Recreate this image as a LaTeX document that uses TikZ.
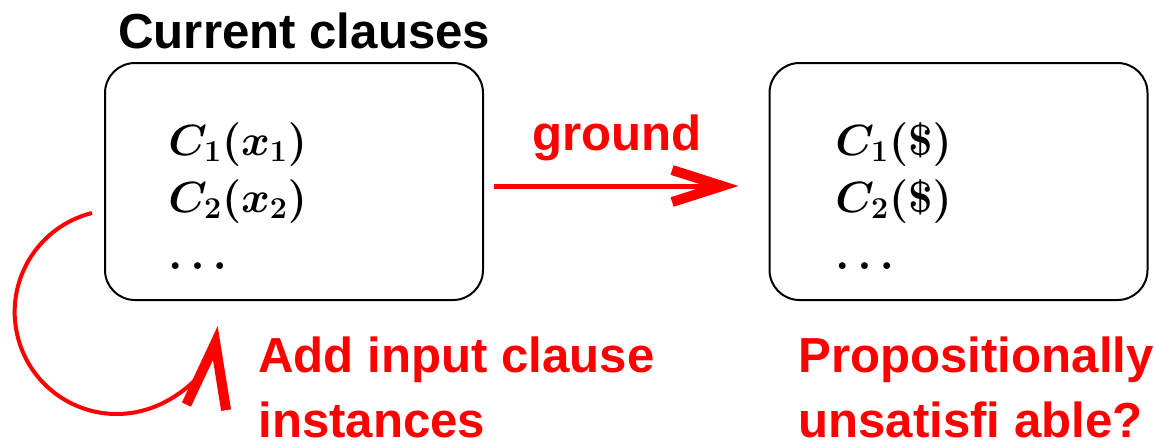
\documentclass[tikz,border=0pt]{standalone}
\usepackage[no-math]{fontspec}
\setmainfont{Liberation Sans}
\usetikzlibrary{arrows.meta}

\newlength{\du}
\setlength{\du}{0.02cm}

\definecolor{dialinecolor}{rgb}{1.000000, 0.000000, 0.000000}

\tikzset{
  clausebox/.style={draw=black, line width=2\du, rounded corners=30\du,
    minimum width=378\du, minimum height=237\du, inner sep=0pt},
  % multi-line nodes sit on the baseline of their last line
  clauselist/.style={font=\fontsize{26}{32.4}\selectfont\boldmath, align=left,
    inner sep=0pt, anchor=base west},
  heading/.style={font=\fontsize{28}{36.5}\selectfont\bfseries, inner sep=0pt,
    anchor=base west},
  redlabel/.style={heading, text=dialinecolor, align=left},
  % barb sizes in cm (1cm = 50\du)
  redarrow/.style={draw=dialinecolor, line width=5\du,
    -{Straight Barb[length=1.0cm,width=0.64cm,line width=0.2cm]}},
  redloop/.style={draw=dialinecolor, line width=4\du,
    -{Straight Barb[length=1.3cm,width=0.8cm,line width=0.2cm]}},
}

\begin{document}
\begin{tikzpicture}
\pgftransformxscale{1.000000}
\pgftransformyscale{-1.000000}
\useasboundingbox (0\du,0\du) rectangle (1155\du,441\du);
% boxes
\node[heading] (title) at (118\du,48\du) {Current clauses};
\node[clausebox] (cur) at (294\du,181.5\du) {};
\node[clausebox] (gnd) at (958.5\du,181.5\du) {};
% clauses
\node[clauselist] (curlist) at (168\du,269\du) {$C_1(x_1)$\\$C_2(x_2)$\\$\ldots$};
\node[clauselist] (gndlist) at (835\du,269\du) {$C_1(\$)$\\$C_2(\$)$\\$\ldots$};
% labels
\node[redlabel, anchor=base] (groundlbl) at (617\du,150\du) {ground};
\node[redlabel] (addlbl) at (258\du,437\du) {Add input clause\\instances};
\node[redlabel] (proplbl) at (798\du,437\du) {Propositionally\\unsatisfi able?};
% arrows
\draw[redarrow] ([xshift=10\du,yshift=4.5\du]cur.east) -- ([xshift=-30\du,yshift=4.5\du]gnd.west);
\coordinate (loopstart) at ([xshift=-12\du,yshift=31.5\du]cur.west);
\draw[redloop] (loopstart) arc[start angle=256, end angle=8, radius=102\du];
\end{tikzpicture}
\end{document}
